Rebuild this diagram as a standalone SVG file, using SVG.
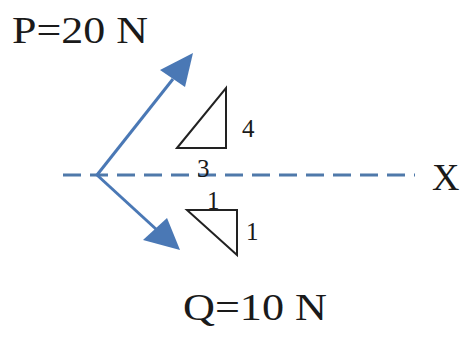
<svg xmlns="http://www.w3.org/2000/svg" width="470" height="338" viewBox="0 0 470 338">
<style>
.lbl{font-family:"Liberation Serif","Times New Roman",serif;fill:#1a1a1a}
.big{font-size:38px}
.sm{font-size:25px}
.force{stroke:#4a78b5;stroke-width:3;fill:none}
.head{fill:#4a78b5;stroke:none}
.tri{fill:none;stroke:#222;stroke-width:2}
</style>
<rect width="470" height="338" fill="#fff"/>
<g id="axis">
<line x1="63" y1="175" x2="415" y2="175" stroke="#4f79aa" stroke-width="3" stroke-dasharray="18 9"/>
<text class="lbl big" x="432" y="190">X</text>
</g>
<g id="connectors">
<line class="force" x1="97" y1="175" x2="173" y2="79"/>
<polygon class="head" points="193,53 160,70 185,87"/>
<line class="force" x1="97" y1="175" x2="157" y2="230"/>
<polygon class="head" points="180,250 143,240 167,218"/>
</g>
<g id="P">
<text class="lbl big" x="12" y="43" textLength="136" lengthAdjust="spacingAndGlyphs">P=20 N</text>
</g>
<g id="Q">
<text class="lbl big" x="183" y="320" textLength="144" lengthAdjust="spacingAndGlyphs">Q=10 N</text>
</g>
<g id="slopeP">
<polygon class="tri" points="177,148 226,88 226,148"/>
<text class="lbl sm" x="242" y="137">4</text>
<text class="lbl sm" x="197" y="177">3</text>
</g>
<g id="slopeQ">
<polygon class="tri" points="187,210 237,210 237,255"/>
<text class="lbl sm" x="207" y="209">1</text>
<text class="lbl sm" x="246" y="240">1</text>
</g>
</svg>
